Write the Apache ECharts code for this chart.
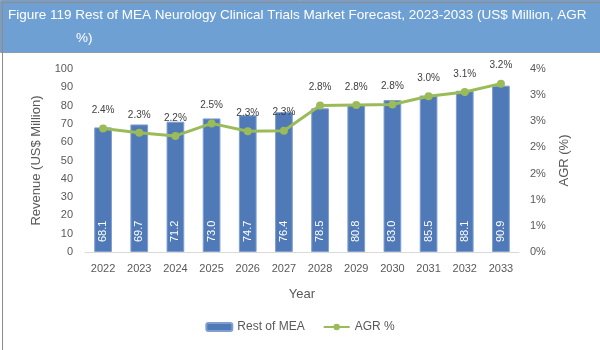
<!DOCTYPE html>
<html>
<head>
<meta charset="utf-8">
<script src="https://cdn.jsdelivr.net/npm/echarts@6/dist/echarts.min.js"></script>
<style>
  html, body { margin: 0; padding: 0; background: #fff; }
  #chart { width: 600px; height: 350px; }
</style>
</head>
<body>
<div id="chart"></div>
<script>
const years = ['2022', '2023', '2024', '2025', '2026', '2027', '2028', '2029', '2030', '2031', '2032', '2033']
const revenue = [68.1, 69.7, 71.2, 73.0, 74.7, 76.4, 78.5, 80.8, 83.0, 85.5, 88.1, 90.9]
const agr = [2.36, 2.28, 2.22, 2.46, 2.31, 2.32, 2.80, 2.81, 2.82, 2.98, 3.06, 3.22]

const FONT = 'Liberation Sans'
const AXIS_TEXT = '#595959'

const chart = echarts.init(document.getElementById('chart'))

chart.setOption({
  animation: false,
  textStyle: { fontFamily: FONT },
  graphic: [
    // title band + outer frame
    {
      type: 'rect', left: 0, top: 0, z: -1,
      shape: { width: 600, height: 52 },
      style: { fill: '#6fa0d3', stroke: '#8a9bb0', lineWidth: 1 }
    },
    {
      type: 'rect', left: 0, top: 0, z: -1,
      shape: { x: 0.5, y: 0.5, width: 599, height: 349 },
      style: { fill: 'none', stroke: '#8c8c8c', lineWidth: 1 }
    }
  ],
  title: [
    {
      text: 'Figure 119 Rest of MEA Neurology Clinical Trials Market Forecast, 2023-2033 (US$ Million, AGR',
      left: 8, top: 8, padding: 0,
      textStyle: { color: '#fff', fontSize: 13.5, fontWeight: 'normal', fontFamily: FONT }
    },
    {
      text: '%)',
      left: 76, top: 31, padding: 0,
      textStyle: { color: '#fff', fontSize: 13.5, fontWeight: 'normal', fontFamily: FONT }
    }
  ],
  grid: { left: 85, right: 81, top: 69, bottom: 98 },
  legend: {
    top: 316,
    left: 'center',
    itemGap: 18,
    itemWidth: 26,
    itemHeight: 8,
    textStyle: { color: AXIS_TEXT, fontSize: 12, fontFamily: FONT },
    data: ['Rest of MEA', 'AGR %']
  },
  xAxis: {
    type: 'category',
    data: years,
    name: 'Year',
    nameLocation: 'middle',
    nameGap: 36,
    nameTextStyle: { color: AXIS_TEXT, fontSize: 13 },
    axisLine: { lineStyle: { color: '#d9d9d9' } },
    axisTick: { show: false },
    axisLabel: { color: AXIS_TEXT, fontSize: 11, margin: 11 }
  },
  yAxis: [
    {
      type: 'value',
      min: 0, max: 100, interval: 10,
      name: 'Revenue (US$ Million)',
      nameLocation: 'middle',
      nameGap: 42,
      nameTextStyle: { color: AXIS_TEXT, fontSize: 13 },
      axisLine: { show: false },
      axisTick: { show: false },
      splitLine: { show: false },
      axisLabel: { color: AXIS_TEXT, fontSize: 11, margin: 12 }
    },
    {
      type: 'value',
      min: 0, max: 3.5, interval: 0.5,
      name: 'AGR (%)',
      nameLocation: 'middle',
      nameGap: 39,
      nameRotate: 90,
      nameTextStyle: { color: AXIS_TEXT, fontSize: 13 },
      axisLine: { show: false },
      axisTick: { show: false },
      splitLine: { show: false },
      axisLabel: {
        color: AXIS_TEXT, fontSize: 11, margin: 11,
        formatter: v => Math.round(v) + '%'
      }
    }
  ],
  series: [
    {
      name: 'Rest of MEA',
      type: 'bar',
      data: revenue,
      barWidth: '49%',
      itemStyle: { color: '#5079b8', borderColor: '#7f9fd0', borderWidth: 1 },
      label: {
        show: true,
        position: 'insideBottom',
        distance: 10,
        rotate: 90,
        align: 'left',
        verticalAlign: 'middle',
        color: '#fff',
        fontSize: 11,
        formatter: p => p.value.toFixed(1)
      }
    },
    {
      name: 'AGR %',
      type: 'line',
      yAxisIndex: 1,
      data: agr,
      symbol: 'circle',
      symbolSize: 8,
      lineStyle: { color: '#9bbb59', width: 3 },
      itemStyle: { color: '#9bbb59' },
      label: {
        show: true,
        position: 'top',
        distance: 9,
        color: '#404040',
        fontSize: 10,
        formatter: p => p.value.toFixed(1) + '%'
      }
    }
  ]
})
</script>
</body>
</html>
